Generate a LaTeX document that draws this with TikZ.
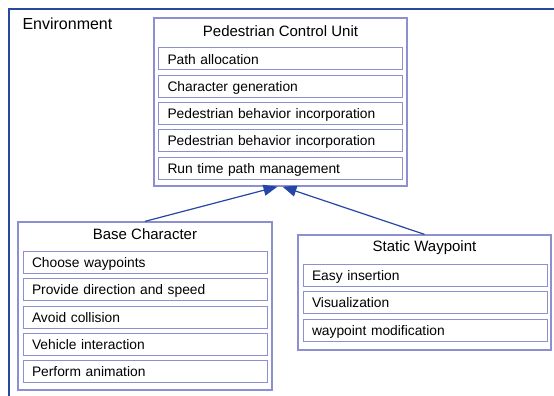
\documentclass[tikz,border=0pt]{standalone}
\usepackage{fontspec}
\setmainfont{Liberation Sans}
\usetikzlibrary{positioning, arrows.meta}

\definecolor{envblue}{HTML}{2A479F}
\definecolor{boxblue}{HTML}{8C90D2}
\definecolor{linkblue}{HTML}{2446A6}

\begin{document}
\begin{tikzpicture}[
x=1pt, y=-1pt,
node distance=4.3pt,
envframe/.style={draw=envblue, line width=2.2pt},
unitbox/.style={rectangle, draw=boxblue, line width=1.3pt, minimum width=253pt},
itembox/.style={rectangle, draw=boxblue, line width=1pt, minimum height=22pt, text width=226pt, inner xsep=9pt, align=left, text height=10pt, text depth=0pt, font=\fontsize{13.8}{16}\selectfont},
titletext/.style={font=\fontsize{15}{18}\selectfont},
link/.style={draw=linkblue, line width=1.2pt, -{Triangle[length=14pt, width=11pt, fill=linkblue]}},
]
\useasboundingbox (0,0) rectangle (554,396);

%Environment
\draw[envframe] (9,400) |- (560,9);
\node[font=\fontsize{16}{19}\selectfont, anchor=west] (env) at (19,24) {Environment};

%Pedestrian Control Unit
\node[unitbox, minimum height=168pt] (pcu) at (280.5,102) {};
\node[titletext] (pcutitle) at (280.5,31) {Pedestrian Control Unit};
\node[itembox]      (path)      at (280.5,59)  {Path allocation};
\node[itembox]      (chargen)   [below=of path]    {Character generation};
\node[itembox]      (behavior)  [below=of chargen] {Pedestrian behavior incorporation};
\node[itembox]      (behavior2) [below=of behavior] {Pedestrian behavior incorporation};
\node[itembox]      (runtime)   [below=of behavior2] {Run time path management};

%Base Character
\node[unitbox, minimum height=168pt, minimum width=254pt] (base) at (145,306) {};
\node[titletext] (basetitle) at (145,234) {Base Character};
\node[itembox]      (choose)    at (145,262.5) {Choose waypoints};
\node[itembox]      (direction) [below=of choose]    {Provide direction and speed};
\node[itembox]      (avoid)     [below=of direction] {Avoid collision};
\node[itembox]      (vehicle)   [below=of avoid]     {Vehicle interaction};
\node[itembox]      (animate)   [below=of vehicle]   {Perform animation};

%Static Waypoint
\node[unitbox, minimum height=115pt] (static) at (424.5,292.5) {};
\node[titletext] (statictitle) at (424.5,248) {Static Waypoint};
\node[itembox]      (insert)    at (425,275.5) {Easy insertion};
\node[itembox]      (visual)    [below=of insert] {Visualization};
\node[itembox]      (modify)    [below=of visual] {waypoint modification};

%Lines
\draw[link] (base.north) -- ([xshift=-3pt]pcu.south);
\draw[link] (static.north) -- ([xshift=2pt]pcu.south);
\end{tikzpicture}
\end{document}
